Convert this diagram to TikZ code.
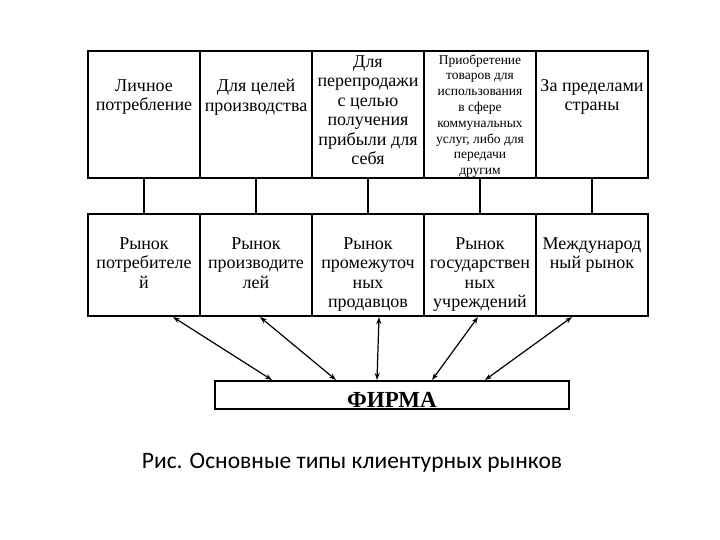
\documentclass[tikz,border=0pt]{standalone}
\usepackage{fontspec}
\setmainfont{Liberation Serif}
\newfontfamily\capfont{Carlito}
\usetikzlibrary{arrows.meta}
\begin{document}
\begin{tikzpicture}[x=1pt,y=-1pt,
 box/.style={draw,line width=2pt,minimum width=112pt,inner sep=0pt,anchor=north west},
 txt/.style={align=center,font=\fontsize{18}{19.5}\selectfont,anchor=north},
 arr/.style={{Stealth[length=7pt,width=5pt]}-{Stealth[length=7pt,width=5pt]},line width=1.2pt}]
\useasboundingbox (0,0) rectangle (720,540);
\foreach \i/\x in {1/87,2/199,3/311,4/423,5/535}{
  \node[box,minimum height=127pt] (t\i) at (\x,50) {};
  \node[box,minimum height=102pt] (b\i) at (\x,213) {};
  \draw[line width=1.2pt] (t\i.south) -- (b\i.north);
}
\node[txt] at ([yshift=-26]t1.north) {Личное\\потребление};
\node[txt] at ([yshift=-26]t2.north) {Для целей\\производства};
\node[txt] at ([yshift=-2]t3.north) {Для\\перепродажи\\с целью\\получения\\прибыли для\\себя};
\node[txt,font=\fontsize{13.5}{15.8}\selectfont] at ([yshift=-1]t4.north) {Приобретение\\товаров для\\использования\\в сфере\\коммунальных\\услуг, либо для\\передачи\\другим};
\node[txt] at ([yshift=-26]t5.north) {За пределами\\страны};
\node[txt] at ([yshift=-21]b1.north) {Рынок\\потребителе\\й};
\node[txt] at ([yshift=-21]b2.north) {Рынок\\производите\\лей};
\node[txt] at ([yshift=-21]b3.north) {Рынок\\промежуточ\\ных\\продавцов};
\node[txt] at ([yshift=-21]b4.north) {Рынок\\государствен\\ных\\учреждений};
\node[txt] at ([yshift=-21]b5.north) {Международ\\ный рынок};
\node[draw,line width=2pt,minimum width=354pt,minimum height=28pt,inner sep=0pt,anchor=north west] (f) at (214,380) {};
\node[font=\fontsize{23}{23}\bfseries\selectfont] at ([yshift=-5]f.center) {ФИРМА};
\draw[arr] ([xshift=-28]b1.south east) -- ([xshift=58]f.north west);
\draw[arr] ([xshift=-53]b2.south east) -- ([xshift=122]f.north west);
\draw[arr] ([xshift=-46]b3.south east) -- ([xshift=163]f.north west);
\draw[arr] ([xshift=-59]b4.south east) -- ([xshift=218]f.north west);
\draw[arr] ([xshift=-77]b5.south east) -- ([xshift=271]f.north west);
\node[font=\capfont\fontsize{23.5}{23.5}\selectfont] (cap) at (352,463) {Рис. Основные типы клиентурных рынков};
\end{tikzpicture}
\end{document}
